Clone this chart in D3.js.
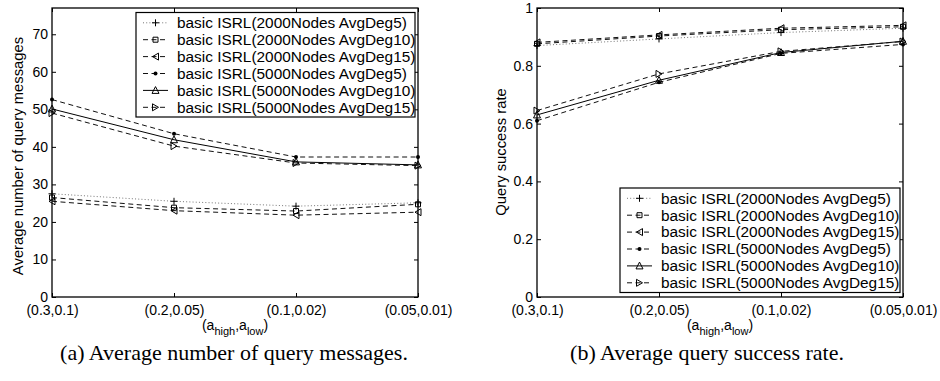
<!DOCTYPE html>
<html>
<head>
<meta charset="utf-8">
<script src="https://cdn.jsdelivr.net/npm/d3@7"></script>
<style>
  body { margin: 0; background: #fff; }
  svg { display: block; }
  text { font-family: "Liberation Sans", Arial, Helvetica, sans-serif; fill: #000; }
</style>
</head>
<body>
<div id="root"></div>
<script>
// x categories: (a_high, a_low) settings
const xLabels = ["(0.3,0.1)", "(0.2,0.05)", "(0.1,0.02)", "(0.05,0.01)"];

const seriesNames = [
  "basic ISRL(2000Nodes AvgDeg5)",
  "basic ISRL(2000Nodes AvgDeg10)",
  "basic ISRL(2000Nodes AvgDeg15)",
  "basic ISRL(5000Nodes AvgDeg5)",
  "basic ISRL(5000Nodes AvgDeg10)",
  "basic ISRL(5000Nodes AvgDeg15)"
];

// (a) average number of query messages
const msgN2000Deg5  = [27.5, 25.5, 24.2, 25.1];
const msgN2000Deg10 = [26.5, 23.8, 22.9, 24.7];
const msgN2000Deg15 = [25.5, 23.0, 21.8, 22.6];
const msgN5000Deg5  = [52.6, 43.5, 37.3, 37.3];
const msgN5000Deg10 = [50.1, 41.9, 36.0, 35.2];
const msgN5000Deg15 = [49.0, 40.2, 35.7, 35.0];

// (b) average query success rate
const rateN2000Deg5  = [0.870, 0.893, 0.915, 0.930];
const rateN2000Deg10 = [0.876, 0.903, 0.925, 0.935];
const rateN2000Deg15 = [0.881, 0.907, 0.930, 0.940];
const rateN5000Deg5  = [0.610, 0.743, 0.843, 0.874];
const rateN5000Deg10 = [0.630, 0.750, 0.846, 0.885];
const rateN5000Deg15 = [0.645, 0.772, 0.850, 0.884];

const msgTicks  = [0, 10, 20, 30, 40, 50, 60, 70];
const rateTicks = [0, 0.2, 0.4, 0.6, 0.8, 1];

// line look per series (same order as seriesNames)
const styles = [
  { dash: "1,2.2", stroke: "#777", marker: "plus" },
  { dash: "5,3.5", stroke: "#111", marker: "square" },
  { dash: "5,3.5", stroke: "#111", marker: "triLeft" },
  { dash: "5,3.5", stroke: "#111", marker: "dot" },
  { dash: null,    stroke: "#000", marker: "triUp" },
  { dash: "5,3.5", stroke: "#111", marker: "triRight" }
];

const width = 940;
const height = 381;

const svg = d3.select("#root")
  .append("svg")
    .attr("width", width)
    .attr("height", height);

function markerPath(type) {
  switch (type) {
    case "plus": return "M-3.5,0H3.5M0,-3.5V3.5";
    case "square": return "M-2.5,-2.5H2.5V2.5H-2.5Z";
    case "triLeft": return "M-3,0L3,-3.5L3,3.5Z";
    case "triUp": return "M0,-3.8L3.5,3L-3.5,3Z";
    case "triRight": return "M3,0L-3,-3.5L-3,3.5Z";
    default: return "";
  }
}

function drawMarker(g, type, stroke) {
  if (type === "dot") {
    g.append("circle").attr("r", 2).attr("fill", stroke);
  } else {
    g.append("path")
      .attr("d", markerPath(type))
      .attr("fill", "none")
      .attr("stroke", stroke)
      .attr("stroke-width", 1);
  }
}

function drawPanel(opt) {
  const g = svg.append("g");

  const x = d3.scalePoint()
    .domain(xLabels)
    .range([opt.left, opt.right]);

  const y = d3.scaleLinear()
    .domain(opt.domain)
    .range([opt.bottom, opt.top]);

  // axes, MATLAB style: ticks point inward on all four sides
  g.append("g")
    .attr("transform", `translate(${opt.left},0)`)
    .call(d3.axisLeft(y).tickValues(opt.ticks).tickFormat(opt.tickFormat).tickSize(-4).tickPadding(4))
    .call(a => a.select(".domain").remove())
    .call(a => a.selectAll("text").attr("font-size", 14).attr("font-family", null));
  g.append("g")
    .attr("transform", `translate(${opt.right},0)`)
    .call(d3.axisRight(y).tickValues(opt.ticks).tickFormat("").tickSize(-4))
    .call(a => a.select(".domain").remove());
  g.append("g")
    .attr("transform", `translate(0,${opt.bottom})`)
    .call(d3.axisBottom(x).tickSize(-4).tickPadding(8))
    .call(a => a.select(".domain").remove())
    .call(a => a.selectAll("text").attr("font-size", 14).attr("font-family", null));
  g.append("g")
    .attr("transform", `translate(0,${opt.top})`)
    .call(d3.axisTop(x).tickFormat("").tickSize(-4))
    .call(a => a.select(".domain").remove());

  g.selectAll(".tick line").attr("stroke", "#000");

  g.append("rect")
    .attr("x", opt.left)
    .attr("y", opt.top)
    .attr("width", opt.right - opt.left)
    .attr("height", opt.bottom - opt.top)
    .attr("fill", "none")
    .attr("stroke", "#000")
    .attr("stroke-width", 1.3);

  // series lines + markers
  const lineGen = d3.line()
    .x((d, i) => x(xLabels[i]))
    .y(d => y(d));

  opt.series.forEach((values, si) => {
    const st = styles[si];
    g.append("path")
      .attr("d", lineGen(values))
      .attr("fill", "none")
      .attr("stroke", st.stroke)
      .attr("stroke-width", 1)
      .attr("stroke-dasharray", st.dash);
    g.selectAll(null)
      .data(values)
      .enter()
      .append("g")
        .attr("transform", (d, i) => `translate(${x(xLabels[i])},${y(d)})`)
        .each(function () { drawMarker(d3.select(this), st.marker, "#000"); });
  });

  // axis titles
  g.append("text")
    .text(opt.yTitle)
    .attr("transform", `translate(${opt.yTitleX},${opt.yTitleY})rotate(-90)`)
    .attr("text-anchor", "middle")
    .attr("font-size", 14.8);

  const xt = g.append("text")
    .attr("x", (opt.left + opt.right) / 2)
    .attr("y", 330)
    .attr("text-anchor", "middle")
    .attr("font-size", 14);
  xt.append("tspan").text("(a");
  xt.append("tspan").text("high").attr("font-size", 11).attr("dy", 5);
  xt.append("tspan").text(",a").attr("dy", -5);
  xt.append("tspan").text("low").attr("font-size", 11).attr("dy", 5);
  xt.append("tspan").text(")").attr("dy", -5);

  // legend
  const lg = g.append("g").attr("transform", `translate(${opt.legendX},${opt.legendY})`);
  lg.append("rect")
    .attr("width", opt.legendW)
    .attr("height", 104.5)
    .attr("fill", "#fff")
    .attr("stroke", "#000")
    .attr("stroke-width", 1.2);

  seriesNames.forEach((name, si) => {
    const st = styles[si];
    const row = lg.append("g").attr("transform", `translate(0,${10.3 + si * 16.9})`);
    row.append("line")
      .attr("x1", 7).attr("x2", 32)
      .attr("stroke", st.stroke)
      .attr("stroke-width", 1)
      .attr("stroke-dasharray", st.dash);
    drawMarker(row.append("g").attr("transform", "translate(19.5,0)"), st.marker, "#000");
    row.append("text")
      .text(name)
      .attr("x", 41)
      .attr("dy", "0.35em")
      .attr("font-size", 15.4);
  });

  // caption under the panel
  svg.append("text")
    .text(opt.caption)
    .attr("x", opt.captionX)
    .attr("y", 360)
    .attr("text-anchor", "middle")
    .attr("font-size", 22)
    .style("font-family", "'Liberation Serif', 'Times New Roman', serif");
}

drawPanel({
  left: 52, right: 418, top: 8, bottom: 297,
  domain: [0, 77],
  ticks: msgTicks,
  tickFormat: d3.format("d"),
  series: [msgN2000Deg5, msgN2000Deg10, msgN2000Deg15, msgN5000Deg5, msgN5000Deg10, msgN5000Deg15],
  yTitle: "Average number of query messages",
  yTitleX: 23, yTitleY: 156,
  legendX: 136, legendY: 12.5, legendW: 279,
  caption: "(a)  Average number of query messages.",
  captionX: 234
});

drawPanel({
  left: 537, right: 903, top: 8, bottom: 297,
  domain: [0, 1],
  ticks: rateTicks,
  tickFormat: d => d3.format("~g")(d),
  series: [rateN2000Deg5, rateN2000Deg10, rateN2000Deg15, rateN5000Deg5, rateN5000Deg10, rateN5000Deg15],
  yTitle: "Query success rate",
  yTitleX: 506, yTitleY: 152,
  legendX: 620, legendY: 188, legendW: 280,
  caption: "(b)  Average query success rate.",
  captionX: 707
});
</script>
</body>
</html>
